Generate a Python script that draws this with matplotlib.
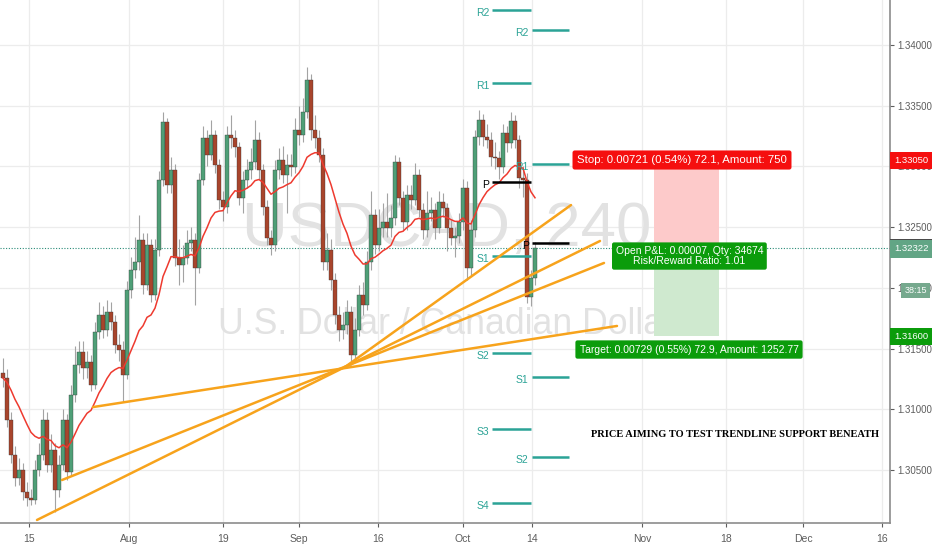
import numpy as np
import pandas as pd
import matplotlib
matplotlib.use("Agg")
import matplotlib.pyplot as plt
import matplotlib.transforms as mtransforms
from matplotlib.patches import Rectangle

plt.rcParams['font.family'] = ['Liberation Sans', 'DejaVu Sans']

# USDCAD candles (one candle ~ half a trading day)
close = [1.31257, 1.30911, 1.30623, 1.30434, 1.30500, 1.30318, 1.30269, 1.30253, 1.30500, 1.30623,
         1.30911, 1.30541, 1.30664, 1.30335, 1.30541, 1.30911, 1.30483, 1.31117, 1.31365, 1.31472,
         1.31340, 1.31389, 1.31200, 1.31636, 1.31776, 1.31653, 1.31801, 1.31719, 1.31529, 1.31488,
         1.31282, 1.31982, 1.32147, 1.32213, 1.32394, 1.32023, 1.32353, 1.31941, 1.32312, 1.32888,
         1.33366, 1.32847, 1.32971, 1.32246, 1.32188, 1.32246, 1.32369, 1.32394, 1.32164, 1.32888,
         1.33234, 1.33094, 1.33259, 1.33012, 1.32724, 1.32666, 1.33259, 1.33234, 1.33160, 1.32740,
         1.32888, 1.32971, 1.33037, 1.33218, 1.32971, 1.32666, 1.32411, 1.32353, 1.32971, 1.33053,
         1.32930, 1.33012, 1.32995, 1.33300, 1.33259, 1.33448, 1.33712, 1.33300, 1.33234, 1.33094,
         1.32213, 1.32312, 1.32065, 1.31776, 1.31653, 1.31694, 1.31801, 1.31447, 1.31653, 1.31941,
         1.31859, 1.32213, 1.32600, 1.32353, 1.32493, 1.32542, 1.32493, 1.32575, 1.33037, 1.32740,
         1.32542, 1.32765, 1.32724, 1.32930, 1.32641, 1.32476, 1.32616, 1.32641, 1.32493, 1.32707,
         1.32658, 1.32493, 1.32411, 1.32427, 1.32542, 1.32822, 1.32164, 1.32476, 1.33242, 1.33383,
         1.33242, 1.33218, 1.33078, 1.33070, 1.32995, 1.33275, 1.33193, 1.33374, 1.33218, 1.32905,
         1.32888, 1.31925, 1.32081, 1.32329]
high = [1.31420, 1.31330, 1.30980, 1.30700, 1.30600, 1.30560, 1.30400, 1.30340, 1.30580, 1.30720,
        1.31000, 1.30980, 1.30800, 1.30720, 1.30620, 1.31000, 1.30960, 1.31200, 1.31520, 1.31560,
        1.31560, 1.31480, 1.31450, 1.31720, 1.31880, 1.31850, 1.31900, 1.31880, 1.31780, 1.31620,
        1.31560, 1.32060, 1.32250, 1.32420, 1.32600, 1.32450, 1.32450, 1.32400, 1.32400, 1.32960,
        1.33448, 1.33400, 1.33080, 1.33020, 1.32400, 1.32350, 1.32480, 1.32500, 1.32450, 1.32950,
        1.33330, 1.33300, 1.33383, 1.33300, 1.33060, 1.32800, 1.33330, 1.33420, 1.33300, 1.33200,
        1.32960, 1.33060, 1.33150, 1.33380, 1.33280, 1.33020, 1.32720, 1.32480, 1.33050, 1.33150,
        1.33170, 1.33100, 1.33100, 1.33400, 1.33500, 1.33560, 1.33819, 1.33760, 1.33420, 1.33300,
        1.33150, 1.32450, 1.32400, 1.32120, 1.31850, 1.31800, 1.31900, 1.31850, 1.31750, 1.32020,
        1.32050, 1.32300, 1.32800, 1.32650, 1.32650, 1.32700, 1.32780, 1.32680, 1.33094, 1.33080,
        1.32800, 1.32850, 1.32850, 1.33030, 1.32980, 1.32700, 1.32800, 1.32750, 1.32700, 1.32800,
        1.32780, 1.32700, 1.32560, 1.32500, 1.32620, 1.32900, 1.32880, 1.32560, 1.33300, 1.33465,
        1.33430, 1.33350, 1.33280, 1.33200, 1.33130, 1.33350, 1.33330, 1.33448, 1.33420, 1.33260,
        1.33000, 1.32950, 1.32150, 1.32380]
low = [1.31180, 1.30850, 1.30560, 1.30370, 1.30380, 1.30250, 1.30200, 1.30211, 1.30220, 1.30450,
       1.30580, 1.30480, 1.30480, 1.30154, 1.30280, 1.30500, 1.30420, 1.30450, 1.31060, 1.31300,
       1.31250, 1.31260, 1.31150, 1.31170, 1.31580, 1.31590, 1.31600, 1.31650, 1.31460, 1.31400,
       1.31060, 1.31250, 1.31920, 1.32080, 1.32150, 1.31950, 1.31980, 1.31880, 1.31900, 1.32260,
       1.32840, 1.32780, 1.32780, 1.32180, 1.32020, 1.32050, 1.32200, 1.32300, 1.31859, 1.32120,
       1.32850, 1.33000, 1.33050, 1.32950, 1.32650, 1.32550, 1.32620, 1.33150, 1.33080, 1.32680,
       1.32620, 1.32820, 1.32900, 1.32980, 1.32900, 1.32600, 1.32350, 1.32271, 1.32300, 1.32900,
       1.32860, 1.32620, 1.32920, 1.32950, 1.33180, 1.33200, 1.33400, 1.33220, 1.33150, 1.33040,
       1.32150, 1.32150, 1.31980, 1.31700, 1.31560, 1.31580, 1.31620, 1.31365, 1.31400, 1.31600,
       1.31780, 1.31820, 1.32150, 1.32280, 1.32300, 1.32420, 1.32420, 1.32420, 1.32520, 1.32680,
       1.32480, 1.32480, 1.32650, 1.32680, 1.32580, 1.32400, 1.32420, 1.32550, 1.32400, 1.32450,
       1.32580, 1.32300, 1.32350, 1.32250, 1.32370, 1.32480, 1.32065, 1.32100, 1.32420, 1.33180,
       1.33170, 1.33150, 1.33000, 1.32980, 1.32900, 1.32950, 1.33120, 1.33150, 1.33150, 1.32820,
       1.32750, 1.31875, 1.31850, 1.32020]
first_open = 1.31300

date_ticks = [6.5, 31.5, 55, 74, 93.75, 115, 132.25, 159.75, 180.75, 200, 219.75]
date_labels = ['15', 'Aug', '19', 'Sep', '16', 'Oct', '14', 'Nov', '18', 'Dec', '16']
price_ticks = [1.305, 1.310, 1.315, 1.320, 1.325, 1.330, 1.335, 1.340]

# trendlines: (x0, price0, x1, price1)
trendlines = [(8.5, 1.30088, 85.5, 1.31348),
              (85.5, 1.31348, 149.25, 1.32386),
              (14.75, 1.30417, 150.25, 1.32205),
              (22.5, 1.31018, 153.5, 1.31686),
              (85.5, 1.31348, 142.0, 1.32682)]

# pivot levels, two weekly sets
pivot_set1 = {'R2': 1.34289, 'R1': 1.33687, 'P': 1.32872, 'S1': 1.32262,
              'S2': 1.31463, 'S3': 1.30837, 'S4': 1.30228}
pivot_set2 = {'R2': 1.34124, 'R1': 1.33020, 'P': 1.32369, 'S1': 1.31266, 'S2': 1.30607}

entry_price = 1.32329
stop_price = 1.33050
target_price = 1.31600
bid_price = 1.32322

opens = [first_open] + close[:-1]
x = np.arange(len(close))
o = np.array(opens)
c = np.array(close)
h = np.maximum(np.array(high), np.maximum(o, c))
l = np.minimum(np.array(low), np.minimum(o, c))
ma = pd.Series(close).ewm(span=18, adjust=False).mean()

fig = plt.figure(figsize=(9.32, 5.5), dpi=100)
ax = fig.add_axes([0, 27 / 550, 890 / 932, 523 / 550])
ax.set_xlim(-0.75, 221.75)
ax.set_ylim(1.30063, 1.34371)
renderer = fig.canvas.get_renderer()


def fit_width(t, width_px):
    # scale font size so the text spans the given width in pixels
    bb = t.get_window_extent(renderer)
    t.set_fontsize(t.get_fontsize() * width_px / bb.width)


ax.set_xticks(date_ticks)
ax.set_xticklabels(date_labels)
ax.set_yticks(price_ticks)
ax.set_yticklabels(['%.5f' % p for p in price_ticks])
ax.yaxis.tick_right()
ax.tick_params(axis='both', colors='#5d5d5d', length=3, width=0.8)
ax.tick_params(axis='x', pad=5, labelsize=7.5)
ax.tick_params(axis='y', pad=2, labelsize=7)
ax.grid(True, color='#ececec', lw=0.9)
ax.set_axisbelow(True)
for s in ['top', 'left']:
    ax.spines[s].set_visible(False)
for s in ['right', 'bottom']:
    ax.spines[s].set_color('#8c8c8c')
    ax.spines[s].set_linewidth(1.2)

# watermark
wm1 = ax.text(111, 1.32345, 'USDCAD, 240', fontsize=40, color='#e2e2e2', ha='center',
              va='baseline', zorder=0.8)
fit_width(wm1, 408)
wm2 = ax.text(111, 1.31620, 'U.S. Dollar / Canadian Dollar', fontsize=20, color='#e2e2e2',
              ha='center', va='baseline', zorder=0.8)
fit_width(wm2, 456)

# position tool
ax.add_patch(Rectangle((162.75, entry_price), 16.25, stop_price - entry_price,
                       fc='#fdcaca', ec='none', zorder=1))
ax.add_patch(Rectangle((162.75, target_price), 16.25, entry_price - target_price,
                       fc='#cfe9cf', ec='none', zorder=1))

ax.axhline(entry_price, color='#2b8c78', lw=0.8, ls=(0, (1, 1.5)), zorder=1.5)

# candles
up = c >= o
ax.vlines(x, l, h, color='#a3a3a3', lw=0.8, zorder=2)
ax.bar(x[up], (c - o)[up], bottom=o[up], width=0.78, color='#4f9f77',
       edgecolor='#333333', lw=0.25, zorder=2.2)
ax.bar(x[~up], (o - c)[~up], bottom=c[~up], width=0.78, color='#a8452c',
       edgecolor='#333333', lw=0.25, zorder=2.2)
ax.plot(x, ma, color='#ee3a2f', lw=1.1, zorder=2.5)

# pivots
for (xs, xe, lab_x, piv) in [(122.25, 132.0, 121.6, pivot_set1), (132.25, 141.5, 131.4, pivot_set2)]:
    for name, val in piv.items():
        col = 'black' if name == 'P' else '#2ba396'
        ax.plot([xs, xe], [val, val], color=col, lw=1.8, zorder=3, solid_capstyle='butt')
        ax.text(lab_x, val - 0.00022, name, color=col, fontsize=7.5, ha='right', va='center', zorder=3)

for (x0, y0, x1, y1) in trendlines:
    ax.plot([x0, x1], [y0, y1], color='#f7a31c', lw=1.8, zorder=4, solid_capstyle='round')

# labels of the position tool
ax.text(169.75, 1.33053, 'Stop: 0.00721 (0.54%) 72.1, Amount: 750', color='white', fontsize=8.2,
        ha='center', va='center', zorder=5,
        bbox=dict(boxstyle='round,pad=0.4,rounding_size=0.2', fc='#f50f0f', ec='none'))
ax.text(171.6, 1.32262, 'Open P&L: 0.00007, Qty: 34674\nRisk/Reward Ratio: 1.01', color='white',
        fontsize=7.5, ha='center', va='center', linespacing=1.0, zorder=5,
        bbox=dict(boxstyle='round,pad=0.35,rounding_size=0.2', fc='#0b9c0b', ec='none'))
ax.text(171.5, 1.31492, 'Target: 0.00729 (0.55%) 72.9, Amount: 1252.77', color='white', fontsize=7.5,
        ha='center', va='center', zorder=5,
        bbox=dict(boxstyle='round,pad=0.4,rounding_size=0.2', fc='#0b9c0b', ec='none'))

cap = ax.text(183, 1.30793, 'PRICE AIMING TO TEST TRENDLINE SUPPORT BENEATH', fontsize=9,
              family=['Liberation Serif'], weight='bold', ha='center', va='center', zorder=5)
fit_width(cap, 289)

# price tags on the right axis
tagtr = mtransforms.blended_transform_factory(ax.transAxes, ax.transData)
for val, txt, fc in [(stop_price, '1.33050', '#f50f0f'), (entry_price, '1.32329', '#4a4a4a'),
                     (bid_price, '1.32322', '#62a585'), (target_price, '1.31600', '#0b9c0b')]:
    ax.text(1.0045, val, txt, transform=tagtr, fontsize=6.8, color='white', ha='left', va='center',
            clip_on=False, zorder=6,
            bbox=dict(boxstyle='square,pad=0.45', fc=fc, ec='none'))
ax.text(1.016, 1.31980, '38:15', transform=tagtr, fontsize=6.5, color='white', ha='left', va='center',
        clip_on=False, zorder=6, bbox=dict(boxstyle='square,pad=0.35', fc='#76a98e', ec='none'))

fig.savefig('out.png', dpi=100, facecolor='white')
